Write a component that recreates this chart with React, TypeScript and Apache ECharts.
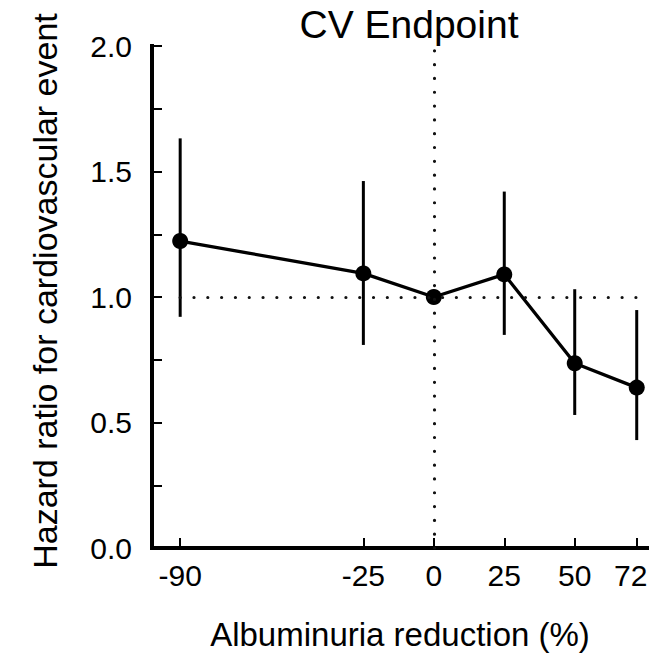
import React, { useEffect, useRef } from "react";
import * as echarts from "echarts";

const xValues = [-90, -25, 0, 25, 50, 72];
const hazardRatio = [1.223, 1.094, 1.0, 1.09, 0.736, 0.639];
const ciLower: (number | null)[] = [0.921, 0.809, null, 0.849, 0.53, 0.43];
const ciUpper: (number | null)[] = [1.632, 1.462, null, 1.42, 1.031, 0.948];
const xTickValues = [-90, -25, 0, 25, 50, 72];

const FONT = '"Liberation Sans", Arial, Helvetica, sans-serif';

export default function App() {
  const ref = useRef<HTMLDivElement>(null);
  useEffect(() => {
    if (!ref.current) return;
    const chart = echarts.init(ref.current, null, { renderer: "svg" });
    const lineData = xValues.map((x, i) => [x, hazardRatio[i]]);
    const errData = xValues
      .map((x, i) => [x, ciLower[i], ciUpper[i]])
      .filter((d) => d[1] != null && d[2] != null);
    const lastTick = xTickValues[xTickValues.length - 1];
    chart.setOption({
      animation: false,
      backgroundColor: "#fff",
      textStyle: { fontFamily: FONT, color: "#000" },
      graphic: [
        {
          type: "text",
          x: 409,
          y: 5,
          style: {
            text: "CV Endpoint",
            font: `39px ${FONT}`,
            fill: "#000",
            textAlign: "center",
            textVerticalAlign: "top",
          },
        },
      ],
      grid: {
        left: 152,
        right: 1,
        top: 46,
        bottom: 110,
        containLabel: false,
        outerBoundsMode: "none",
      },
      xAxis: {
        type: "value",
        min: -100,
        max: 76,
        name: "Albuminuria reduction (%)",
        nameLocation: "middle",
        nameGap: 70,
        nameTextStyle: { fontSize: 33, color: "#000", fontFamily: FONT },
        axisLine: { onZero: false, lineStyle: { color: "#000", width: 4, cap: "square" } },
        axisTick: {
          inside: true,
          length: 10,
          customValues: xTickValues,
          lineStyle: { color: "#000", width: 2 },
        },
        axisLabel: {
          customValues: xTickValues,
          fontSize: 30,
          color: "#000",
          fontFamily: FONT,
          margin: 12,
          formatter: (v: number) => (v === lastTick ? `{edge|${v}}` : String(v)),
          rich: {
            edge: { fontSize: 30, color: "#000", fontFamily: FONT, padding: [0, 12, 0, 0] },
          },
        },
        splitLine: { show: false },
      },
      yAxis: {
        type: "value",
        min: 0,
        max: 2,
        interval: 0.5,
        name: "Hazard ratio for cardiovascular event",
        nameLocation: "middle",
        nameGap: 90,
        nameTextStyle: { fontSize: 34, color: "#000", fontFamily: FONT, padding: [0, 0, 0, 12] },
        axisLine: { onZero: false, lineStyle: { color: "#000", width: 4, cap: "square" } },
        axisTick: { inside: true, length: 10, lineStyle: { color: "#000", width: 2 } },
        minorTick: { show: true, splitNumber: 2, length: 10, lineStyle: { color: "#000", width: 2 } },
        axisLabel: {
          fontSize: 30,
          color: "#000",
          fontFamily: FONT,
          margin: 20,
          formatter: (v: number) => v.toFixed(1),
        },
        splitLine: { show: false },
      },
      series: [
        {
          type: "custom",
          z: 2,
          data: errData,
          encode: { x: 0, y: [1, 2] },
          renderItem: (params: any, api: any) => {
            const x = api.value(0);
            const p1 = api.coord([x, api.value(1)]);
            const p2 = api.coord([x, api.value(2)]);
            return {
              type: "line",
              shape: { x1: p1[0], y1: p1[1], x2: p2[0], y2: p2[1] },
              style: { stroke: "#000", lineWidth: 3 },
            };
          },
        },
        {
          type: "line",
          z: 3,
          data: lineData,
          symbol: "circle",
          symbolSize: 16,
          itemStyle: { color: "#000" },
          lineStyle: { color: "#000", width: 3.3 },
          markLine: {
            silent: true,
            symbol: "none",
            label: { show: false },
            lineStyle: { color: "#111", width: 3.2, type: [0.01, 13.8], cap: "round" },
            data: [
              [{ coord: [-90, 1] }, { coord: [76, 1] }],
              [{ coord: [0, 0] }, { coord: [0, 2] }],
            ],
          },
        },
      ],
    });
    return () => chart.dispose();
  }, []);
  return (
    <div
      ref={ref}
      style={{ position: "absolute", left: 0, top: 0, width: 649, height: 658 }}
    />
  );
}
